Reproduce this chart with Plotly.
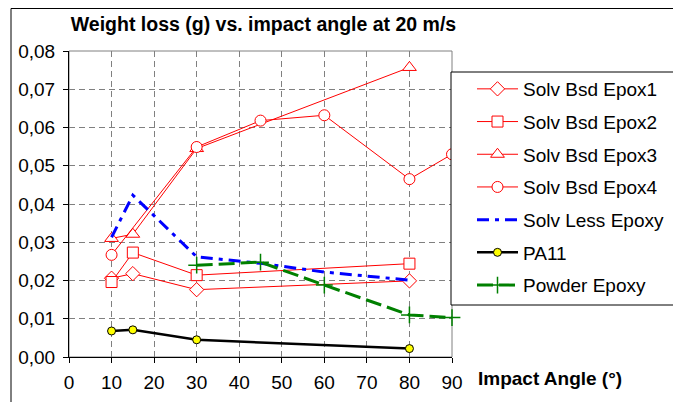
import plotly.graph_objects as go

# ---- data ----
x_e1 = [10, 15, 30, 80]
y_e1 = [0.0206, 0.0218, 0.0176, 0.0199]
x_e2 = [10, 15, 30, 80]
y_e2 = [0.0196, 0.0273, 0.0214, 0.0244]
x_e3 = [10, 15, 30, 80]
y_e3 = [0.0310, 0.0321, 0.0545, 0.0757]
x_e4 = [10, 30, 45, 60, 80, 90]
y_e4 = [0.0267, 0.0549, 0.0618, 0.0632, 0.0465, 0.0530]
x_sl = [10, 15, 30, 45, 60, 80]
y_sl = [0.0313, 0.0423, 0.0262, 0.0245, 0.0222, 0.0201]
x_pa = [10, 15, 30, 80]
y_pa = [0.0068, 0.0071, 0.0045, 0.0022]
x_pw = [30, 45, 60, 80, 90]
y_pw = [0.0240, 0.0248, 0.0188, 0.0110, 0.0103]

names = ["Solv Bsd Epox1", "Solv Bsd Epox2", "Solv Bsd Epox3", "Solv Bsd Epox4",
         "Solv Less Epoxy", "PA11", "Powder Epoxy"]
x_ticks = [0, 10, 20, 30, 40, 50, 60, 70, 80, 90]
y_ticks = [0.00, 0.01, 0.02, 0.03, 0.04, 0.05, 0.06, 0.07, 0.08]

FONT = "Liberation Sans, Arial, sans-serif"
RED = "#FF0000"

fig = go.Figure()

def red_trace(x, y, name, symbol, size):
    return go.Scatter(
        x=x, y=y, name=name, mode="lines+markers", legendgroup=name,
        line=dict(color=RED, width=1),
        marker=dict(symbol=symbol, size=size, color="white",
                    line=dict(color=RED, width=1)),
        cliponaxis=False)

fig.add_trace(red_trace(x_e1, y_e1, names[0], "diamond", 11))
fig.add_trace(red_trace(x_e2, y_e2, names[1], "square", 11))
fig.add_trace(red_trace(x_e3, y_e3, names[2], "triangle-up", 12))
fig.add_trace(red_trace(x_e4, y_e4, names[3], "circle", 11))
fig.add_trace(go.Scatter(
    x=x_sl, y=y_sl, name=names[4], mode="lines", legendgroup=names[4],
    line=dict(color="#0000FF", width=3, dash="12px,6px,4px,6px"),
    cliponaxis=False))
fig.add_trace(go.Scatter(
    x=x_pa, y=y_pa, name=names[5], mode="lines+markers", legendgroup=names[5],
    line=dict(color="black", width=2.5),
    marker=dict(symbol="circle", size=8, color="#FFFF00",
                line=dict(color="black", width=1)),
    cliponaxis=False))
fig.add_trace(go.Scatter(
    x=x_pw, y=y_pw, name=names[6], mode="lines+markers", legendgroup=names[6],
    line=dict(color="#008000", width=3, dash="16px,6px"),
    marker=dict(symbol="cross-thin", size=12, color="#008000",
                line=dict(color="#008000", width=1.5)),
    cliponaxis=False))

# page body has an 8px margin: work in window px, shift into figure px
OFF = 8
W, H = 681 - OFF, 402 - OFF
L, R, T, B = 69 - OFF, 452 - OFF, 51 - OFF, 357 - OFF
pw, ph = R - L, B - T

def px_x(p):  # window px -> paper x
    return (p - OFF - L) / pw

def px_y(p):  # window px -> paper y
    return (B - (p - OFF)) / ph

shapes = [
    # outer chart border
    dict(type="rect", xref="paper", yref="paper", x0=px_x(11), x1=px_x(700),
         y0=px_y(420), y1=(B - 0.5) / ph, line=dict(color="black", width=1),
         fillcolor="rgba(0,0,0,0)", layer="below"),
    # plot area border (gray)
    dict(type="rect", xref="paper", yref="paper", x0=0, x1=1, y0=0, y1=1,
         line=dict(color="#808080", width=1), fillcolor="rgba(0,0,0,0)", layer="below"),
    # legend box
    dict(type="rect", xref="paper", yref="paper", x0=px_x(451), x1=px_x(679),
         y0=px_y(305), y1=px_y(72), line=dict(color="black", width=1),
         fillcolor="white", layer="above"),
]

fig.update_layout(
    width=W, height=H,
    margin=dict(l=L, r=W - R, t=T, b=H - B, pad=0, autoexpand=False),
    paper_bgcolor="white", plot_bgcolor="white",
    separators=", ",
    font=dict(family=FONT, size=19, color="black"),
    title=dict(text="<b>Weight loss (g) vs. impact angle at 20 m/s</b>",
               font=dict(family=FONT, size=19.5, color="black"),
               xref="paper", x=px_x(263.5), xanchor="center",
               yref="container", y=1 - (24 - OFF) / H, yanchor="middle"),
    xaxis=dict(range=[0, 90], tickvals=x_ticks, ticks="outside", ticklen=5,
               tickcolor="black", showline=True, linecolor="black", linewidth=1,
               showgrid=True, gridcolor="#808080", gridwidth=1, griddash="6px,4px",
               zeroline=False, tickfont=dict(size=19, family=FONT),
               ticklabelstandoff=3, automargin=False),
    yaxis=dict(range=[0, 0.08], tickvals=y_ticks, tickformat=".2f", ticks="outside",
               ticklen=5, tickcolor="black", showline=True, linecolor="black",
               linewidth=1, showgrid=True, gridcolor="#808080", gridwidth=1,
               griddash="6px,4px", zeroline=False,
               tickfont=dict(size=19, family=FONT), ticklabelstandoff=4,
               automargin=False),
    showlegend=True,
    legend=dict(x=px_x(472), y=px_y(70), xanchor="left", yanchor="top",
                bgcolor="rgba(0,0,0,0)", borderwidth=0,
                font=dict(family=FONT, size=19, color="black"),
                tracegroupgap=5, itemwidth=41),
    shapes=shapes,
    annotations=[dict(text="<b>Impact Angle (°)</b>", xref="paper", yref="paper",
                      x=px_x(476), y=px_y(378), xanchor="left", yanchor="middle",
                      showarrow=False, font=dict(family=FONT, size=19, color="black"))],
)

fig.write_html("out.html")
